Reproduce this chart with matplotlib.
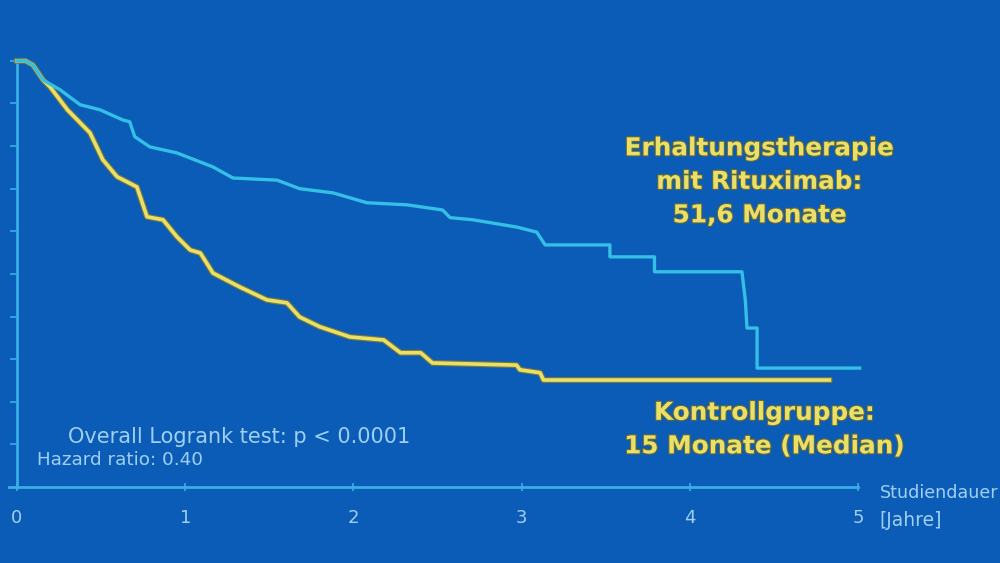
import matplotlib
matplotlib.use("Agg")
import matplotlib.pyplot as plt
import matplotlib.patheffects as pe

# Kaplan-Meier Kurven, Zeit in Jahren
ritux_t = [0.0, 0.05, 0.095, 0.155, 0.256, 0.375, 0.494, 0.63, 0.67, 0.70, 0.79,
           0.95, 1.165, 1.284, 1.546, 1.68, 1.88, 2.08, 2.32, 2.53, 2.575, 2.71,
           2.97, 3.09, 3.14, 3.525, 3.525, 3.79, 3.79, 4.31, 4.33, 4.34, 4.40,
           4.40, 5.01]
ritux_s = [1.0, 1.0, 0.99, 0.955, 0.932, 0.897, 0.885, 0.861, 0.857, 0.822, 0.798,
           0.784, 0.751, 0.725, 0.72, 0.70, 0.69, 0.667, 0.662, 0.65, 0.632, 0.627,
           0.61, 0.598, 0.568, 0.568, 0.54, 0.54, 0.505, 0.505, 0.439, 0.373, 0.373,
           0.279, 0.279]

kontr_t = [0.0, 0.05, 0.095, 0.155, 0.196, 0.30, 0.434, 0.51, 0.595, 0.713, 0.773,
           0.868, 0.951, 1.03, 1.09, 1.165, 1.326, 1.486, 1.605, 1.68, 1.80,
           1.98, 2.18, 2.28, 2.40, 2.47, 2.97, 2.99, 3.11, 3.13, 4.83]
kontr_s = [1.0, 1.0, 0.99, 0.955, 0.939, 0.885, 0.831, 0.768, 0.728, 0.704, 0.634,
           0.627, 0.587, 0.556, 0.549, 0.502, 0.469, 0.439, 0.432, 0.399, 0.376,
           0.352, 0.345, 0.315, 0.315, 0.291, 0.286, 0.275, 0.268, 0.251, 0.251]

x_ticks = [0, 1, 2, 3, 4, 5]
y_ticks = [0.1, 0.2, 0.3, 0.4, 0.5, 0.6, 0.7, 0.8, 0.9, 1.0]

bg = "#0b5cb6"
axis_col = "#3aaee6"
cyan = "#34bfe6"
yellow = "#e8e068"
label_col = "#9fd0f2"

fig = plt.figure(figsize=(10, 5.63), dpi=100, facecolor=bg)
ax = fig.add_axes([0.017, 0.135, 0.841, 0.757])
ax.set_facecolor(bg)

ax.plot(kontr_t, kontr_s, color=yellow, lw=2.6, clip_on=False, zorder=3,
        path_effects=[pe.Stroke(linewidth=4.2, foreground="#7c7a3a"), pe.Normal()])
ax.plot(ritux_t, ritux_s, color=cyan, lw=2.4, clip_on=False, zorder=4)

ax.set_xlim(0, 5)
ax.set_ylim(0, 1)
for s in ["top", "right"]:
    ax.spines[s].set_visible(False)
for s in ["left", "bottom"]:
    ax.spines[s].set_color(axis_col)
    ax.spines[s].set_linewidth(2)
ax.spines["bottom"].set_bounds(-0.05, 5)

ax.set_yticks(y_ticks)
ax.set_yticklabels([])
ax.tick_params(axis="y", direction="out", length=5, width=1.2, color=axis_col)
ax.set_xticks(x_ticks)
ax.set_xticklabels([str(v) for v in x_ticks], color=label_col, fontsize=13,
                   family="DejaVu Sans")
ax.tick_params(axis="x", direction="inout", length=6, width=1.2, color=axis_col, pad=13)

fig.text(0.88, 0.125, "Studiendauer", color=label_col, fontsize=12.6,
         family="DejaVu Sans", va="center", ha="left")
fig.text(0.879, 0.075, "[Jahre]", color=label_col, fontsize=13.5,
         family="DejaVu Sans", va="center", ha="left")

fig.text(0.068, 0.224, "Overall Logrank test: p < 0.0001", color=label_col,
         fontsize=15, family="DejaVu Sans", va="center", ha="left")
fig.text(0.037, 0.183, "Hazard ratio: 0.40", color=label_col,
         fontsize=13.2, family="DejaVu Sans", va="center", ha="left")

ann = dict(color=yellow, fontsize=17.8, fontweight="bold", family="DejaVu Sans",
           ha="center", va="center", linespacing=1.5,
           path_effects=[pe.withStroke(linewidth=1.5, foreground="#6f6a30")])
fig.text(0.760, 0.677, "Erhaltungstherapie\nmit Rituximab:\n51,6 Monate", **ann)
fig.text(0.765, 0.237, "Kontrollgruppe:\n15 Monate (Median)", **ann)

fig.savefig("out.png", dpi=100, facecolor=bg)
